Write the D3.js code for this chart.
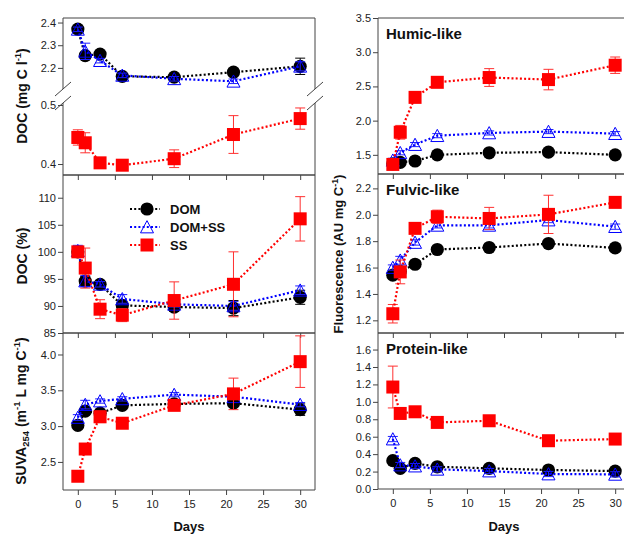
<!DOCTYPE html>
<html><head><meta charset="utf-8">
<script src="https://cdn.jsdelivr.net/npm/d3@7"></script>
<style>
body{margin:0;background:#fff}
svg{display:block;font-family:"Liberation Sans",Arial,Helvetica,sans-serif}
</style>
</head><body>
<svg id="chart" width="624" height="535"></svg>
<script>
// ---------------- DATA ----------------
const days = [0, 1, 3, 6, 13, 21, 30];
const seriesNames = ["DOM", "DOM+SS", "SS"];
const xTickValues = [0, 5, 10, 15, 20, 25, 30];

// DOC (mg C l-1) - DOM & DOM+SS on upper segment, SS on lower segment
const docConcDOM      = [2.371, 2.254, 2.261, 2.163, 2.159, 2.181, 2.207];
const docConcDOMErr   = [0.012, 0.010, 0.010, 0.010, 0.010, 0.015, 0.036];
const docConcDOMSS    = [2.370, 2.273, 2.232, 2.167, 2.152, 2.141, 2.207];
const docConcDOMSSErr = [0.010, 0.036, 0.010, 0.010, 0.010, 0.010, 0.020];
const docConcSS       = [0.445, 0.436, 0.402, 0.398, 0.409, 0.450, 0.477];
const docConcSSErr    = [0.013, 0.017, 0.005, 0.005, 0.015, 0.032, 0.018];
const docConcUpperTicks = [2.2, 2.3, 2.4];
const docConcLowerTicks = [0.4, 0.5];

// DOC (%)
const docPctDOM      = [100.0, 94.6, 94.0, 90.1, 89.8, 89.6, 91.6];
const docPctDOMErr   = [0.5, 0.8, 0.5, 0.8, 0.8, 1.4, 1.3];
const docPctDOMSS    = [100.2, 94.6, 94.0, 91.3, 90.3, 90.0, 92.9];
const docPctDOMSSErr = [1.0, 1.0, 0.5, 0.8, 0.5, 0.8, 0.8];
const docPctSS       = [100.0, 97.0, 89.4, 88.3, 91.0, 94.0, 106.1];
const docPctSSErr    = [0.5, 3.7, 1.75, 1.2, 3.45, 6.0, 4.1];
const docPctTicks = [85, 90, 95, 100, 105, 110];

// SUVA254 (m-1 L mg C-1)
const suvaDOM      = [3.01, 3.21, 3.18, 3.29, 3.31, 3.32, 3.23];
const suvaDOMErr   = [0.02, 0.03, 0.03, 0.03, 0.03, 0.03, 0.08];
const suvaDOMSS    = [3.12, 3.30, 3.35, 3.38, 3.44, 3.41, 3.30];
const suvaDOMSSErr = [0.04, 0.06, 0.03, 0.03, 0.03, 0.03, 0.03];
const suvaSS       = [2.30, 2.68, 3.13, 3.04, 3.29, 3.45, 3.90];
const suvaSSErr    = [0.04, 0.07, 0.08, 0.03, 0.06, 0.22, 0.36];
const suvaTicks = [2.5, 3.0, 3.5, 4.0];

// Humic-like fluorescence
const humicDOM      = [1.37, 1.39, 1.41, 1.50, 1.53, 1.54, 1.50];
const humicDOMErr   = [0.02, 0.02, 0.02, 0.02, 0.02, 0.02, 0.02];
const humicDOMSS    = [1.42, 1.53, 1.65, 1.78, 1.82, 1.84, 1.81];
const humicDOMSSErr = [0.03, 0.03, 0.03, 0.03, 0.03, 0.03, 0.03];
const humicSS       = [1.36, 1.83, 2.34, 2.56, 2.63, 2.60, 2.81];
const humicSSErr    = [0.02, 0.10, 0.03, 0.03, 0.13, 0.15, 0.12];
const humicTicks = [1.5, 2.0, 2.5, 3.0, 3.5];

// Fulvic-like fluorescence
const fulvicDOM      = [1.542, 1.570, 1.625, 1.737, 1.752, 1.782, 1.749];
const fulvicDOMErr   = [0.01, 0.01, 0.01, 0.01, 0.01, 0.01, 0.01];
const fulvicDOMSS    = [1.600, 1.655, 1.790, 1.920, 1.920, 1.960, 1.910];
const fulvicDOMSSErr = [0.02, 0.03, 0.02, 0.02, 0.02, 0.02, 0.02];
const fulvicSS       = [1.250, 1.567, 1.897, 1.985, 1.972, 2.003, 2.094];
const fulvicSSErr    = [0.07, 0.09, 0.02, 0.05, 0.084, 0.145, 0.03];
const fulvicTicks = [1.2, 1.4, 1.6, 1.8, 2.0, 2.2];

// Protein-like fluorescence
const proteinDOM      = [0.325, 0.237, 0.294, 0.255, 0.237, 0.218, 0.206];
const proteinDOMErr   = [0.02, 0.02, 0.02, 0.02, 0.02, 0.02, 0.02];
const proteinDOMSS    = [0.573, 0.275, 0.263, 0.226, 0.206, 0.172, 0.168];
const proteinDOMSSErr = [0.03, 0.03, 0.03, 0.03, 0.03, 0.03, 0.03];
const proteinSS       = [1.17, 0.867, 0.886, 0.764, 0.783, 0.554, 0.573];
const proteinSSErr    = [0.24, 0.03, 0.03, 0.03, 0.03, 0.03, 0.03];
const proteinTicks = [0.0, 0.2, 0.4, 0.6, 0.8, 1.0, 1.2, 1.4, 1.6];

// ---------------- STYLE ----------------
const colors = {"DOM": "#000000", "DOM+SS": "#0000ff", "SS": "#ff0000"};
const errColors = {"DOM": "#000000", "DOM+SS": "#2020ff", "SS": "#ff3030"};
const axisColor = "#444";
const textColor = "#222";

const svg = d3.select("#chart");

const xL = d3.scaleLinear().domain([-2, 32]).range([63, 315]);
const xR = d3.scaleLinear().domain([-2, 32]).range([378, 630]);

function triPath(s) {
  const h = s * 0.9;
  return `M0,${-h/2 - 0.5}L${s/2},${h/2}L${-s/2},${h/2}Z`;
}

function drawMarker(g, name, cx, cy) {
  if (name === "DOM") {
    g.append("circle").attr("cx", cx).attr("cy", cy).attr("r", 6.6).attr("fill", "#000");
  } else if (name === "DOM+SS") {
    g.append("path").attr("d", triPath(13)).attr("transform", `translate(${cx},${cy})`)
      .attr("fill", "none").attr("stroke", colors[name]).attr("stroke-width", 1);
  } else {
    g.append("rect").attr("x", cx - 6.5).attr("y", cy - 6.5).attr("width", 13).attr("height", 13)
      .attr("fill", colors[name]);
  }
}

function drawSeries(g, name, x, y, vals, errs) {
  const sg = g.append("g");
  days.forEach((d, i) => {
    const e = errs[i];
    const cx = x(d);
    const y1 = y(vals[i] - e), y2 = y(vals[i] + e);
    sg.append("line").attr("x1", cx).attr("x2", cx).attr("y1", y1).attr("y2", y2)
      .attr("stroke", errColors[name]).attr("stroke-width", 1);
    [y1, y2].forEach(yy => sg.append("line").attr("x1", cx - 5).attr("x2", cx + 5)
      .attr("y1", yy).attr("y2", yy).attr("stroke", errColors[name]).attr("stroke-width", 1));
  });
  const line = d3.line().x((d, i) => x(days[i])).y(d => y(d));
  sg.append("path").attr("d", line(vals)).attr("fill", "none")
    .attr("stroke", colors[name]).attr("stroke-width", 2.2).attr("stroke-dasharray", "2,2.2");
  days.forEach((d, i) => drawMarker(sg, name, x(d), y(vals[i])));
}

function styleAxis(sel) {
  sel.select(".domain").remove();
  sel.selectAll(".tick line").attr("stroke", axisColor);
  sel.selectAll(".tick text").attr("fill", textColor).style("font-size", "11px")
    .style("font-family", '"Liberation Sans",Arial,sans-serif');
}

function xAxis(x, yPos, labels) {
  const a = d3.axisBottom(x).tickValues(xTickValues).tickSize(5).tickPadding(5)
    .tickFormat(labels ? d3.format("d") : () => "");
  svg.append("g").attr("transform", `translate(0,${yPos})`).call(a).call(styleAxis);
}

function yAxis(x0, y, ticks, fmt) {
  const a = d3.axisLeft(y).tickValues(ticks).tickSize(5).tickPadding(2).tickFormat(fmt);
  svg.append("g").attr("transform", `translate(${x0},0)`).call(a).call(styleAxis);
}

function frameLine(x1, y1, x2, y2) {
  svg.append("line").attr("x1", x1).attr("y1", y1).attr("x2", x2).attr("y2", y2)
    .attr("stroke", axisColor).attr("stroke-width", 1);
}

function standardPanel(x, top, bottom, domain, ticks, fmt, sets, showXLabels, title) {
  const y = d3.scaleLinear().domain(domain).range([bottom, top]);
  const g = svg.append("g");
  sets.forEach((s, i) => drawSeries(g, seriesNames[i], x, y, s[0], s[1]));
  frameLine(x.range()[0], top, x.range()[1], top);
  frameLine(x.range()[0], bottom, x.range()[1], bottom);
  frameLine(x.range()[0], top, x.range()[0], bottom);
  frameLine(x.range()[1], top, x.range()[1], bottom);
  yAxis(x.range()[0], y, ticks, fmt);
  xAxis(x, bottom, showXLabels);
  if (title) {
    svg.append("text").attr("x", x.range()[0] + 8).attr("y", top + 21).text(title)
      .attr("fill", "#111").style("font-size", "15px").style("font-weight", "bold");
  }
  return y;
}

// ---------- Left top: broken axis ----------
(function () {
  const top = 18, bottom = 175, brkU = 89, brkL = 103;
  const yU = d3.scaleLinear().domain([2.107, 2.42]).range([brkU, top]);
  const yLo = d3.scaleLinear().domain([0.3814, 0.5034]).range([bottom, brkL]);
  const g = svg.append("g");
  drawSeries(g, "DOM", xL, yU, docConcDOM, docConcDOMErr);
  drawSeries(g, "DOM+SS", xL, yU, docConcDOMSS, docConcDOMSSErr);
  drawSeries(g, "SS", xL, yLo, docConcSS, docConcSSErr);
  const [x0, x1] = xL.range();
  frameLine(x0, top, x1, top);
  frameLine(x0, bottom, x1, bottom);
  [x0, x1].forEach(xx => {
    frameLine(xx, top, xx, brkU);
    frameLine(xx, brkL, xx, bottom);
    [brkU, brkL].forEach(yy => frameLine(xx - 8, yy + 7, xx + 8, yy - 7));
  });
  yAxis(x0, yU, docConcUpperTicks, d3.format(".1f"));
  yAxis(x0, yLo, docConcLowerTicks, d3.format(".1f"));
  xAxis(xL, bottom, false);
})();

// ---------- Left middle: DOC % ----------
standardPanel(xL, 175, 333, [85, 114.2], docPctTicks, d3.format("d"),
  [[docPctDOM, docPctDOMErr], [docPctDOMSS, docPctDOMSSErr], [docPctSS, docPctSSErr]], false);

// ---------- Left bottom: SUVA ----------
standardPanel(xL, 333, 490, [2.108, 4.30], suvaTicks, d3.format(".1f"),
  [[suvaDOM, suvaDOMErr], [suvaDOMSS, suvaDOMSSErr], [suvaSS, suvaSSErr]], true);

// ---------- Right panels ----------
standardPanel(xR, 18, 174, [1.22, 3.5], humicTicks, d3.format(".1f"),
  [[humicDOM, humicDOMErr], [humicDOMSS, humicDOMSSErr], [humicSS, humicSSErr]], false, "Humic-like");
standardPanel(xR, 174, 333, [1.104, 2.309], fulvicTicks, d3.format(".1f"),
  [[fulvicDOM, fulvicDOMErr], [fulvicDOMSS, fulvicDOMSSErr], [fulvicSS, fulvicSSErr]], false, "Fulvic-like");
standardPanel(xR, 333, 489, [0, 1.79], proteinTicks, d3.format(".1f"),
  [[proteinDOM, proteinDOMErr], [proteinDOMSS, proteinDOMSSErr], [proteinSS, proteinSSErr]], true, "Protein-like");

// ---------- Legend ----------
(function () {
  const rows = [209, 227, 245];
  seriesNames.forEach((name, i) => {
    const g = svg.append("g");
    const yy = rows[i];
    g.append("line").attr("x1", 130).attr("x2", 160).attr("y1", yy).attr("y2", yy)
      .attr("stroke", colors[name]).attr("stroke-width", 2.2).attr("stroke-dasharray", "2,2.2");
    drawMarker(g, name, 147, yy);
    g.append("text").attr("x", 170).attr("y", yy + 5).text(name)
      .attr("fill", "#111").style("font-size", "13px").style("font-weight", "bold");
  });
})();

// ---------- Axis titles ----------
function richText(x, y, rotate, size, parts) {
  const t = svg.append("text").attr("text-anchor", "middle")
    .attr("transform", `translate(${x},${y})` + (rotate ? " rotate(-90)" : ""))
    .attr("fill", "#111").style("font-size", size + "px").style("font-weight", "bold");
  let shift = 0;
  parts.forEach(p => {
    const ts = t.append("tspan").text(p.t);
    let target = 0;
    if (p.s === "sup") { ts.style("font-size", (size * 0.68) + "px"); target = -size * 0.42; }
    else if (p.s === "sub") { ts.style("font-size", (size * 0.68) + "px"); target = size * 0.22; }
    const dy = target - shift;
    if (dy !== 0) ts.attr("dy", dy);
    shift = target;
  });
  return t;
}

richText(27, 96, true, 14, [{t: "DOC (mg C l"}, {t: "-1", s: "sup"}, {t: ")"}]);
richText(27, 256, true, 14, [{t: "DOC (%)"}]);
richText(26, 411, true, 14, [{t: "SUVA"}, {t: "254", s: "sub"}, {t: " (m"}, {t: "-1", s: "sup"},
  {t: " L mg C"}, {t: "-1", s: "sup"}, {t: ")"}]);
richText(343, 254, true, 13, [{t: "Fluorescence (AU mg C"}, {t: "-1", s: "sup"}, {t: ")"}]);

richText(189, 531, false, 13, [{t: "Days"}]);
richText(504, 531, false, 13, [{t: "Days"}]);
</script>
</body></html>
